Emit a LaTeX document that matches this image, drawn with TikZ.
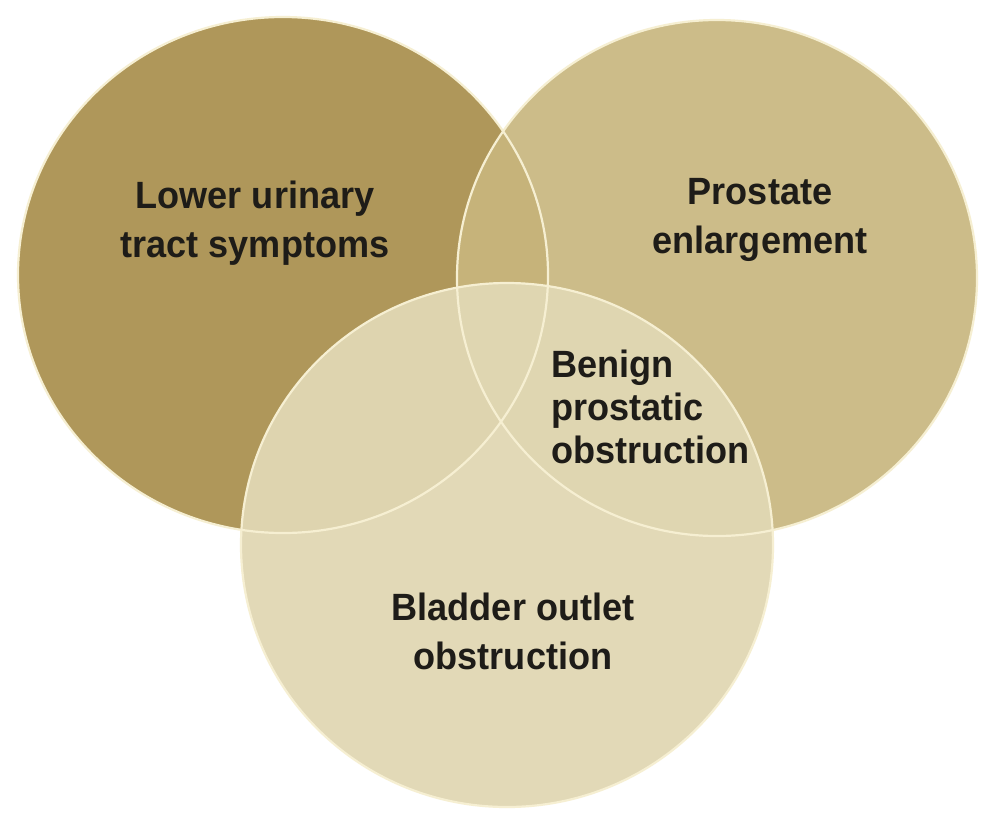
\documentclass[tikz,border=0pt]{standalone}
\usepackage{fontspec}
\setmainfont{Liberation Sans}[FakeStretch=0.95]
\definecolor{leftc}{RGB}{175,151,90}
\definecolor{rightc}{RGB}{204,188,137}
\definecolor{lensc}{RGB}{198,179,122}
\definecolor{bottomc}{RGB}{225,216,180}
\definecolor{edgec}{RGB}{246,239,210}
\definecolor{txtc}{RGB}{30,28,24}
\tikzset{
  edge/.style={draw=edgec, line width=2.2pt},
  lbl/.style={inner sep=0pt, text=txtc, font=\bfseries\fontsize{38}{49}\selectfont, align=center},
  lblleft/.style={inner sep=0pt, text=txtc, font=\bfseries\fontsize{38}{43}\selectfont, align=left}
}
\begin{document}
\begin{tikzpicture}[x=1pt,y=-1pt]
\useasboundingbox (0,0) rectangle (982,812);
\fill[white] (0,0) rectangle (982,812);
% circles
\fill[leftc] (283,275) ellipse [x radius=265pt, y radius=258pt];
\fill[rightc] (717,278) ellipse [x radius=260pt, y radius=258pt];
\begin{scope}
  \clip (283,275) ellipse [x radius=265pt, y radius=258pt];
  \fill[lensc] (717,278) ellipse [x radius=260pt, y radius=258pt];
\end{scope}
\fill[bottomc, fill opacity=0.95] (507,545) ellipse [x radius=266pt, y radius=262pt];
% outlines
\draw[edge] (283,275) ellipse [x radius=265pt, y radius=258pt];
\draw[edge] (717,278) ellipse [x radius=260pt, y radius=258pt];
\draw[edge] (507,545) ellipse [x radius=266pt, y radius=262pt];
% labels
\node[lbl] (luts) at (255,223) {Lower urinary\\tract symptoms};
\node[lbl] (pe) at (760,220) {Prostate\\enlargement};
\node[lblleft, anchor=west] (bpo) at (551,407) {Benign\\prostatic\\obstruction};
\node[lbl] (boo) at (513,631) {Bladder outlet\\obstruction};
\end{tikzpicture}
\end{document}
